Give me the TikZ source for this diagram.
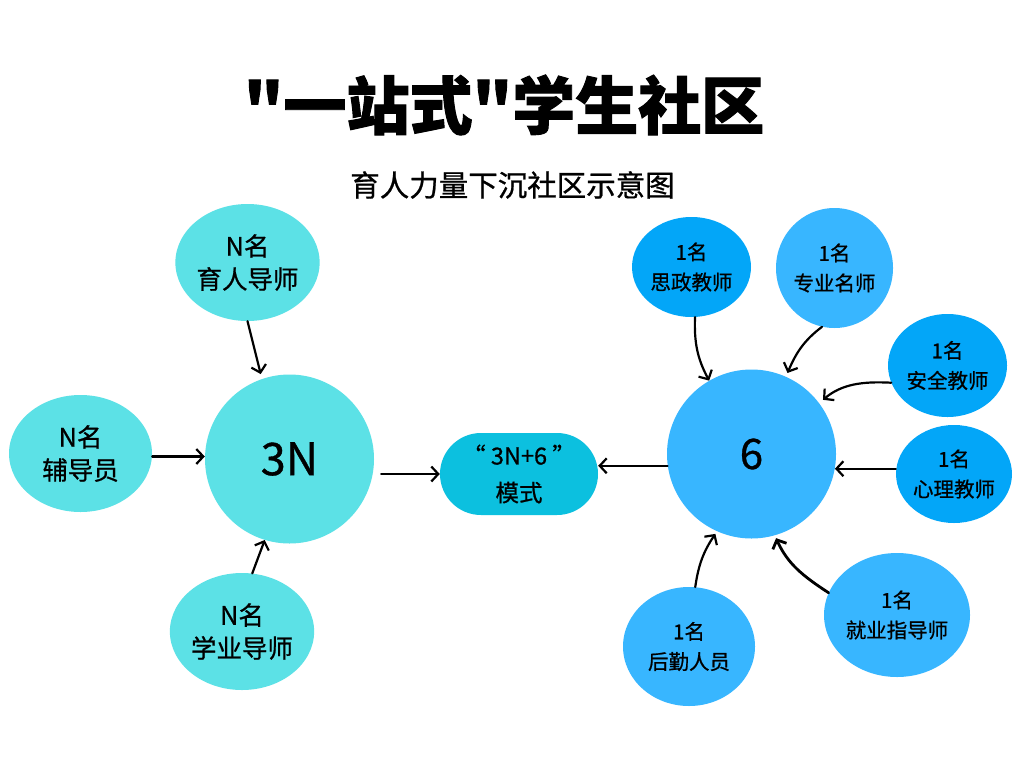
\documentclass[tikz,border=0pt]{standalone}
\usepackage{fontspec}
\newfontfamily\cjk{Noto Sans CJK SC}[FakeBold=0.8]
\newfontfamily\cjkheavy{Noto Sans CJK SC}[BoldFeatures={FakeBold=1.5}]
\usetikzlibrary{arrows.meta,calc,shapes.geometric}
\definecolor{cyanL}{HTML}{5CE1E6}
\definecolor{cyanM}{HTML}{0CC0DF}
\definecolor{blueL}{HTML}{38B6FF}
\definecolor{blueD}{HTML}{03A6F8}
\begin{document}
\begin{tikzpicture}[x=1pt,y=-1pt,
  blob/.style={ellipse, draw=none, inner sep=0pt, align=center},
  lefttxt/.style={font=\cjk\fontsize{25.5}{33}\selectfont},
  righttxt/.style={font=\cjk\fontsize{20.5}{30}\selectfont},
  arr/.style={draw, line width=2.2pt, line cap=round, -{Straight Barb[length=7pt,width=15pt]}}
]
\useasboundingbox (0,0) rectangle (1024,768);
\fill[white] (0,0) rectangle (1024,768);

% titles
\node[font=\cjkheavy\bfseries\fontsize{63}{70}\selectfont, inner sep=0pt] (title) at (504,105) {"一站式"学生社区};
\node[font=\cjk\fontsize{29.5}{32}\selectfont, inner sep=0pt] (sub) at (512.5,185) {育人力量下沉社区示意图};

% left group
\node[blob, lefttxt, fill=cyanL, minimum width=143pt, minimum height=117pt] (a1) at (247.5,262.5) {N名\\育人导师};
\node[blob, lefttxt, fill=cyanL, minimum width=143pt, minimum height=117pt] (a2) at (80.5,453.5) {N名\\辅导员};
\node[blob, lefttxt, fill=cyanL, minimum width=142pt, minimum height=117pt] (a3) at (242,631.5) {N名\\学业导师};
\node[circle, fill=cyanL, minimum size=169pt, inner sep=0pt, font=\cjk\fontsize{45}{45}\selectfont] (n3) at (289.5,459) {3N};

% center
\node[rectangle, rounded corners=41pt, fill=cyanM, minimum width=158pt, minimum height=82pt, inner sep=0pt, align=center, font=\cjk\fontsize{23.5}{37}\selectfont] (m) at (519,474) {“ 3N+6 ”\\模式};

% right group
\node[circle, fill=blueL, minimum size=169pt, inner sep=0pt, font=\cjk\fontsize{42}{42}\selectfont] (s) at (751.5,454) {6};
\node[blob, righttxt, fill=blueD, minimum width=119pt, minimum height=100pt] (b1) at (691.5,267) {1名\\思政教师};
\node[blob, righttxt, fill=blueL, minimum width=117pt, minimum height=120pt] (b2) at (834.5,268) {1名\\专业名师};
\node[blob, righttxt, fill=blueD, minimum width=119pt, minimum height=103pt] (b3) at (947.5,365.5) {1名\\安全教师};
\node[blob, righttxt, fill=blueD, minimum width=115pt, minimum height=98pt] (b4) at (954,474) {1名\\心理教师};
\node[blob, righttxt, fill=blueL, minimum width=132pt, minimum height=119pt] (b5) at (689,646.5) {1名\\后勤人员};
\node[blob, righttxt, fill=blueL, minimum width=146pt, minimum height=124pt] (b6) at (897,615) {1名\\就业指导师};

% left arrows
\draw[arr, shorten >=5pt] (a1.south) -- (n3.109);
\draw[arr] ($(a2.east)+(0,3)$) -- ($(a2.east -| n3.west)+(0,3)$);
\draw[arr] (a3.80) -- (n3.-107);
\draw[arr, shorten <=7pt] (n3.east |- m.west) -- (m.west);

% right arrows
\draw[arr] (s.188) -- (s.188 -| m.east);
\draw[arr] (b4.west |- s.-10) -- (s.-10);
\draw[arr, shorten >=5pt] (b3.197) to[out=177,in=40] (s.37);
\draw[arr, shorten >=4pt] (b2.258) to[out=217,in=67] (s.66);
\draw[arr] (b1.-86) to[out=268,in=118] (s.120);
\draw[arr, shorten >=3pt] (b5.84) to[out=82,in=236] (s.-114);
\draw[arr, line width=2.8pt, shorten >=3pt] (b6.162) to[out=147,in=294] (s.-74);
\end{tikzpicture}
\end{document}
